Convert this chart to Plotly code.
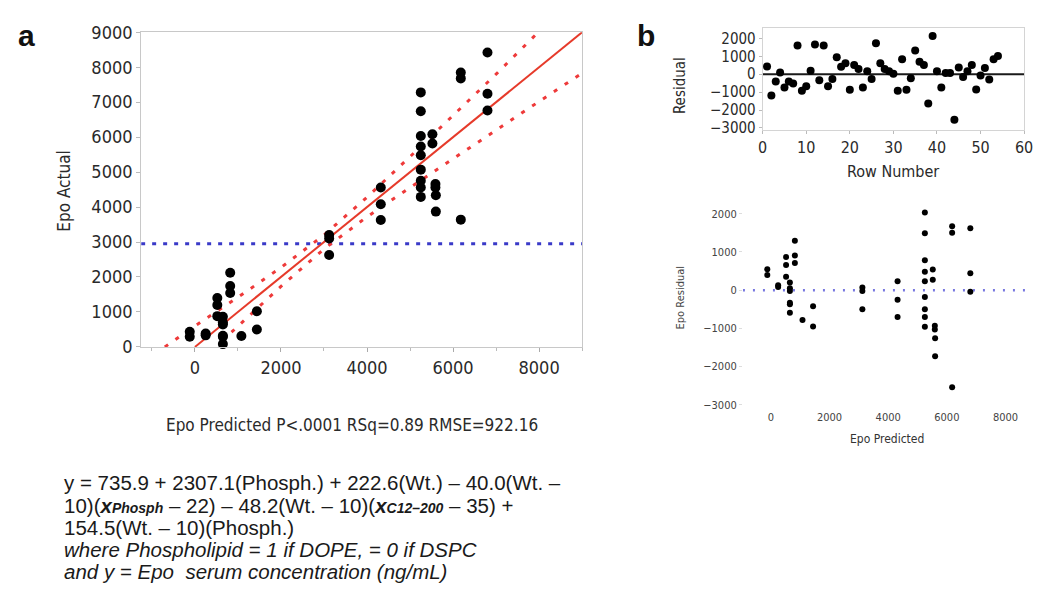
import plotly.graph_objects as go

W, H = 1041, 604

# panel a / lower panel b: predicted, actual, residual
epo_pred = [-120, -120, 250, 250, 520, 520, 520, 650, 650, 650, 650, 650, 650,
            820, 820, 820, 1080, 1440, 1440, 3120, 3120, 3120, 4320, 4320, 4320,
            5250, 5250, 5250, 5250, 5250, 5250, 5250, 5250, 5250, 5520, 5520,
            5590, 5590, 5600, 5600, 6180, 6180, 6180, 6800, 6800, 6800]
epo_actual = [430, 290, 380, 330, 1400, 1200, 880, 860, 700, 640, 320, 290, 80,
              2120, 1740, 1540, 310, 1020, 500, 3200, 3100, 2630, 4560, 4080, 3630,
              7280, 6740, 6030, 5730, 5480, 5070, 4750, 4560, 4290, 6080, 5820,
              4660, 4560, 4340, 3870, 7850, 7680, 3640, 8420, 7240, 6760]
epo_resid = [550, 400, 130, 80, 870, 660, 350, 200, 50, -20, -330, -370, -590,
             1290, 910, 710, -780, -420, -950, 70, -20, -500, 230, -250, -700,
             2030, 1490, 780, 480, 230, -180, -500, -700, -960, 540, 270,
             -930, -1030, -1260, -1730, 1670, 1500, -2540, 1620, 440, -40]

# fit line and confidence curves
fit_x = [0, 9000]
fit_y = [0, 9000]
upper_x = [-700, 0, 1000, 2000, 3000, 4000, 5000, 6000, 7000, 7980]
upper_y = [0, 600, 1420, 2270, 3200, 4280, 5440, 6610, 7800, 9000]
lower_x = [850, 2000, 3000, 4000, 5000, 6000, 7000, 8000, 9000]
lower_y = [420, 1730, 2800, 3720, 4560, 5390, 6200, 7020, 7830]
mean_actual = 2950

# upper panel b: residual by row
row_num = list(range(1, 55))
row_resid = [430, -1190, -410, 100, -740, -410, -520, 1600, -920, -670,
             200, 1660, -340, 1600, -670, -270, 950, 410, 610, -870,
             520, 290, -740, 160, -270, 1730, 610, 290, 160, 20,
             -920, 830, -870, -230, 1330, 700, 520, -1640, 2140, 160,
             -740, 70, 70, -2540, 380, -160, 160, 520, -850, -70,
             340, -290, 830, 1010]

FONT = "Liberation Sans Narrow, DejaVu Sans Condensed, Open Sans, sans-serif"
TXT = "#2a2a2a"


def px(x):
    return x / W


def py(y):
    return 1 - y / H


fig = go.Figure()

# ---- panel a
fig.add_trace(go.Scatter(x=[-1250, 9000], y=[mean_actual, mean_actual], mode="lines",
                         line=dict(color="#3a3ac8", width=3, dash="4px,7px"),
                         xaxis="x", yaxis="y", hoverinfo="skip"))
fig.add_trace(go.Scatter(x=upper_x, y=upper_y, mode="lines",
                         line=dict(color="#ee3a3a", width=3, dash="4px,9px"),
                         xaxis="x", yaxis="y"))
fig.add_trace(go.Scatter(x=lower_x, y=lower_y, mode="lines",
                         line=dict(color="#ee3a3a", width=3, dash="4px,9px"),
                         xaxis="x", yaxis="y"))
fig.add_trace(go.Scatter(x=fit_x, y=fit_y, mode="lines",
                         line=dict(color="#e63a2a", width=2),
                         xaxis="x", yaxis="y"))
fig.add_trace(go.Scatter(x=epo_pred, y=epo_actual, mode="markers",
                         marker=dict(color="black", size=10),
                         cliponaxis=False, xaxis="x", yaxis="y"))

# ---- panel b top
fig.add_trace(go.Scatter(x=[0, 60], y=[0, 0], mode="lines",
                         line=dict(color="#1a1a1a", width=2),
                         xaxis="x2", yaxis="y2"))
fig.add_trace(go.Scatter(x=row_num, y=row_resid, mode="markers",
                         marker=dict(color="black", size=8),
                         cliponaxis=False, xaxis="x2", yaxis="y2"))

# ---- panel b bottom
fig.add_trace(go.Scatter(x=[-950, 8700], y=[0, 0], mode="lines",
                         line=dict(color="#7777e0", width=2.5, dash="2px,8px"),
                         xaxis="x3", yaxis="y3"))
fig.add_trace(go.Scatter(x=epo_pred, y=epo_resid, mode="markers",
                         marker=dict(color="black", size=6),
                         cliponaxis=False, xaxis="x3", yaxis="y3"))

axis_common = dict(showgrid=False, zeroline=False, fixedrange=True,
                   ticklabeloverflow="allow")

fig.update_layout(
    width=W, height=H,
    margin=dict(l=0, r=0, t=0, b=0),
    paper_bgcolor="white", plot_bgcolor="white",
    showlegend=False,
    font=dict(family=FONT, color=TXT),
    xaxis=dict(domain=[px(138), px(585)], range=[-1250, 9000], anchor="y",
               tickvals=[0, 2000, 4000, 6000, 8000], ticks="outside", ticklen=4,
               tickcolor="#aaaaaa", showline=True, linecolor="#c8c8c8", mirror=True,
               minor=dict(ticks="outside", dtick=1000, tick0=0, ticklen=3, tickcolor="#bbbbbb"),
               tickfont=dict(size=18, color=TXT), **axis_common),
    yaxis=dict(domain=[py(348), py(22)], range=[0, 9000], anchor="x",
               dtick=1000, ticks="outside", ticklen=4, tickcolor="#bbbbbb",
               showline=True, linecolor="#c8c8c8", mirror=True,
               tickfont=dict(size=18, color=TXT), **axis_common),
    xaxis2=dict(domain=[px(768), px(1033)], range=[0, 60], anchor="y2",
                tickvals=[0, 10, 20, 30, 40, 50, 60], ticks="outside", ticklen=3,
                tickcolor="#bbbbbb", showline=True, linecolor="#d4d4d4", mirror=True,
                tickfont=dict(size=16, color=TXT), **axis_common),
    yaxis2=dict(domain=[py(123), py(18)], range=[-3100, 2560], anchor="x2",
                dtick=1000, ticks="outside", ticklen=3, tickcolor="#bbbbbb",
                showline=True, linecolor="#d4d4d4", mirror=True,
                tickfont=dict(size=15, color=TXT), **axis_common),
    xaxis3=dict(domain=[px(748), px(1035)], range=[-950, 8700], anchor="y3",
                tickvals=[0, 2000, 4000, 6000, 8000], ticks="", showline=False,
                tickfont=dict(size=11, color="#444444"), **axis_common),
    yaxis3=dict(domain=[py(412), py(191)], range=[-3100, 2480], anchor="x3",
                dtick=1000, ticks="outside", ticklen=3, tickcolor="#dddddd",
                showline=False,
                tickfont=dict(size=11, color="#444444"), **axis_common),
)

SUB = "<span style='font-size:14px'>{}</span>"
eq_lines = [
    "y = 735.9 + 2307.1(Phosph.) + 222.6(Wt.) – 40.0(Wt. –",
    "10)(<b><i>x" + SUB.format("Phosph") + "</i></b> – 22) – 48.2(Wt. – 10)"
    "(<b><i>x" + SUB.format("C12–200") + "</i></b> – 35) +",
    "154.5(Wt. – 10)(Phosph.)",
    "<i>where Phospholipid = 1 if DOPE, = 0 if DSPC</i>",
    "<i>and y = Epo  serum concentration (ng/mL)</i>",
]
eq_y = [489, 512, 535, 558, 581]

ann = [
    dict(x=px(22), y=py(25), text="<b>a</b>", font=dict(size=30, family="Liberation Sans, Arial", color="#111")),
    dict(x=px(650), y=py(25), text="<b>b</b>", font=dict(size=30, family="Liberation Sans, Arial", color="#111")),
    dict(x=px(60), y=py(187), text="Epo Actual", textangle=-90, font=dict(size=17)),
    dict(x=px(352), y=py(429), text="Epo Predicted P<.0001 RSq=0.89 RMSE=922.16", font=dict(size=17)),
    dict(x=px(685), y=py(77), text="Residual", textangle=-90, font=dict(size=15)),
    dict(x=px(900), y=py(166), text="Row Number", font=dict(size=16)),
    dict(x=px(685), y=py(297), text="Epo Residual", textangle=-90, font=dict(size=11, color="#444")),
    dict(x=px(894), y=py(443), text="Epo Predicted", font=dict(size=12, color="#333")),
]
for t, yy in zip(eq_lines, eq_y):
    ann.append(dict(x=px(58), y=py(yy), text=t, xanchor="left",
                    font=dict(size=20.5, family="Liberation Sans, Arial", color="#1a1a1a")))

for a in ann:
    a.setdefault("xanchor", "center")
    a.update(xref="paper", yref="paper", yanchor="middle", showarrow=False)
fig.update_layout(annotations=ann)

fig.write_html("out.html", config={"displayModeBar": False},
               post_script="document.body.style.margin='0';")
